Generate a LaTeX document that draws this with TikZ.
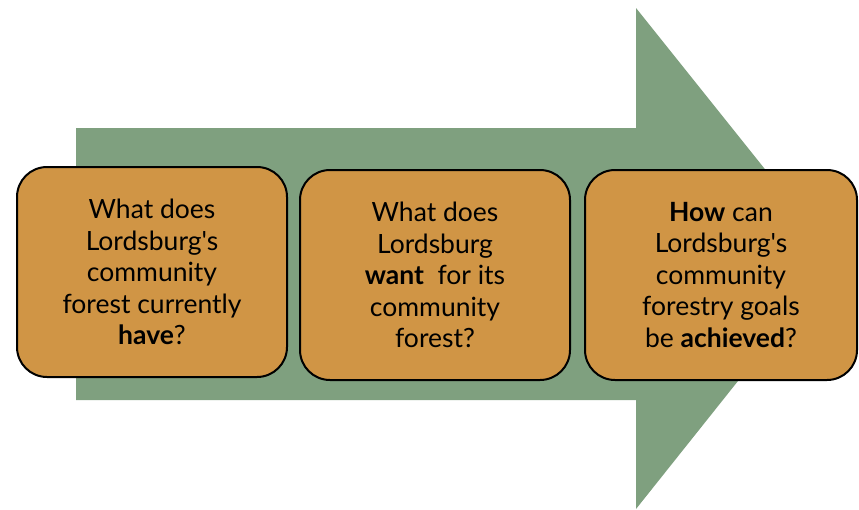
\documentclass[tikz,border=0pt]{standalone}
\usepackage{fontspec}
% straight apostrophes: no TeX quote mapping
\setmainfont{Lato}[Ligatures=TeXReset]
\begin{document}
\begin{tikzpicture}[x=1pt,y=-1pt,
  question/.style={draw=black, line width=2pt, fill=boxfill, rounded corners=30pt,
    minimum width=270pt, minimum height=210pt, align=center, inner sep=0pt,
    font=\fontsize{26.5}{31.5}\selectfont, text=black}]
\definecolor{arrowgreen}{HTML}{7FA07F}
\definecolor{boxfill}{HTML}{D09545}
\useasboundingbox (0,0) rectangle (859,509);
% big process arrow behind the questions
\fill[arrowgreen] (76,128) -- (636,128) -- (636,8) -- (836,258) -- (636,509)
  -- (636,400) -- (76,400) -- cycle;
% the three questions
\node[question] (have) at (152,272) {What does\\Lordsburg's\\community\\forest currently\\\textbf{have}?};
\node[question] (want) at (435,275) {What does\\Lordsburg\\\textbf{want}\ \ for its\\community\\forest?};
\node[question, minimum width=272pt] (how) at (721,275) {\textbf{How} can\\Lordsburg's\\community\\forestry goals\\be \textbf{achieved}?};
\end{tikzpicture}
\end{document}
